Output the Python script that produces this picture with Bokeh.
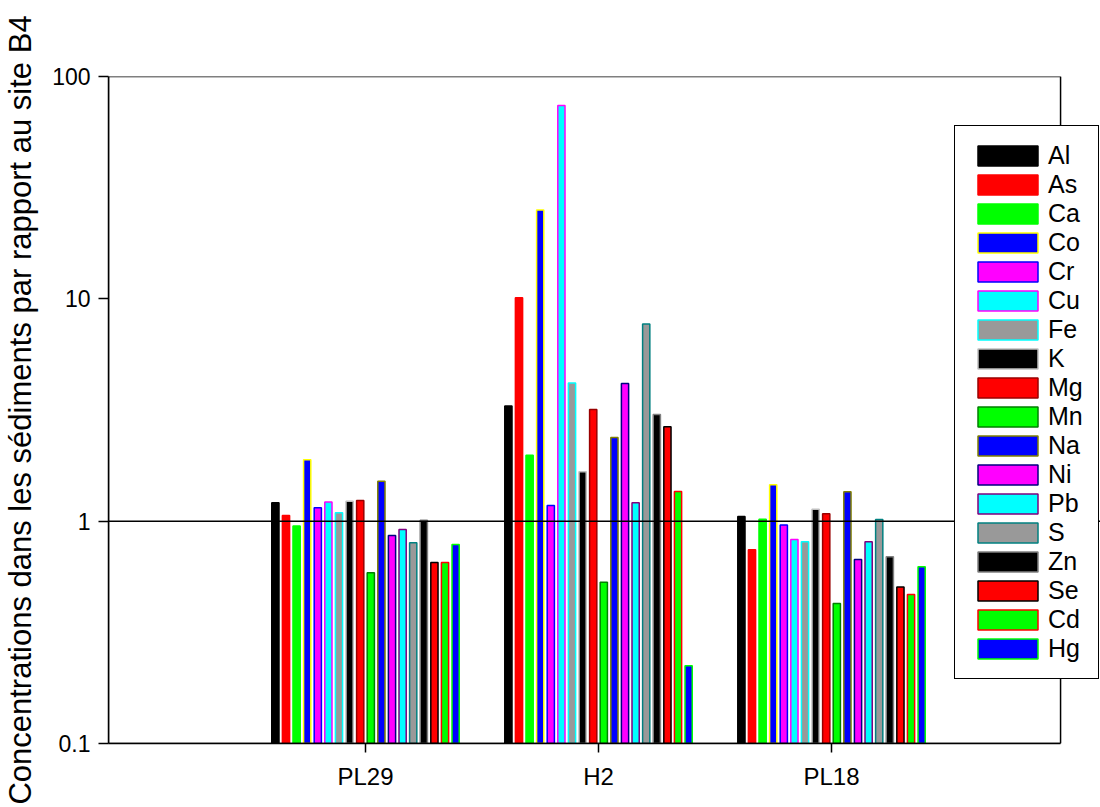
import numpy as np
from bokeh.plotting import figure
from bokeh.models import (Range1d, FixedTicker, CustomJSTickFormatter, Span,
                          Legend, LegendItem, ColumnDataSource, BoxAnnotation)
from bokeh.transform import dodge
from bokeh.embed import file_html
from bokeh.resources import INLINE

# ---- data ----
sites = ["PL29", "H2", "PL18"]
elements = ["Al", "As", "Ca", "Co", "Cr", "Cu", "Fe", "K", "Mg", "Mn",
            "Na", "Ni", "Pb", "S", "Zn", "Se", "Cd", "Hg"]

Al = [1.21, 3.30, 1.05]
As = [1.06, 10.1, 0.743]
Ca = [0.95, 1.98, 1.02]
Co = [1.89, 25.1, 1.46]
Cr = [1.15, 1.175, 0.96]
Cu = [1.22, 74.1, 0.827]
Fe = [1.09, 4.18, 0.807]
K = [1.23, 1.67, 1.13]
Mg = [1.24, 3.18, 1.08]
Mn = [0.586, 0.531, 0.426]
Na = [1.51, 2.38, 1.355]
Ni = [0.862, 4.16, 0.673]
Pb = [0.917, 1.21, 0.807]
S = [0.80, 7.70, 1.017]
Zn = [1.01, 3.02, 0.691]
Se = [0.652, 2.66, 0.506]
Cd = [0.652, 1.36, 0.468]
Hg = [0.786, 0.224, 0.623]
values = [Al, As, Ca, Co, Cr, Cu, Fe, K, Mg, Mn, Na, Ni, Pb, S, Zn, Se, Cd, Hg]

fill_colors = ["#000000", "#ff0000", "#00ff00", "#0000ff", "#ff00ff", "#00ffff",
               "#999999", "#000000", "#ff0000", "#00ff00", "#0000ff", "#ff00ff",
               "#00ffff", "#999999", "#000000", "#ff0000", "#00ff00", "#0000ff"]
line_colors = ["#000000", "#ff0000", "#00ff00", "#ffff00", "#0000ff", "#ff00ff",
               "#00ffff", "#c0c0c0", "#990000", "#008000", "#808000", "#000080",
               "#800080", "#008080", "#808080", "#000000", "#ff0000", "#00ff00"]

FONT = "Liberation Sans"

data = {"pos": list(range(len(sites)))}
for name, vals in zip(elements, values):
    data[name] = vals
source = ColumnDataSource(data)

# plotting box spans x in [X0, X1]; the frame is extended to the right so that
# the legend (which overlaps the box edge) is not clipped
X0, X1 = -1.103, 2.983
XEND = 3.163

p = figure(frame_width=994, frame_height=667,
           min_border_left=106, min_border_right=0,
           min_border_top=76, min_border_bottom=63,
           y_axis_type="log",
           x_range=Range1d(X0, XEND), y_range=Range1d(0.1, 100),
           output_backend="svg", toolbar_location=None,
           background_fill_color="white", border_fill_color="white")

p.xgrid.visible = False
p.ygrid.visible = False
p.outline_line_color = None

step = 0.0455
bar_w = 0.031
n = len(elements)
items = []
for i, name in enumerate(elements):
    r = p.vbar(x=dodge("pos", (i - (n - 1) / 2) * step, range=p.x_range),
               top=name, bottom=0.1, width=bar_w, source=source,
               fill_color=fill_colors[i], line_color=line_colors[i],
               line_width=1.5)
    items.append(LegendItem(label=name, renderers=[r]))

# frame box of the plotting area
box = BoxAnnotation(left=X0, right=X1, bottom=0.1, top=100,
                    fill_alpha=0, line_color="black", line_alpha=1.0,
                    line_width=1.5)
p.add_layout(box)

ref = Span(location=1, dimension="width", line_color="black",
           line_alpha=1.0, line_width=1.5)
p.add_layout(ref)

# y axis
p.yaxis.ticker = FixedTicker(ticks=[0.1, 1, 10, 100], minor_ticks=[])
p.yaxis.formatter = CustomJSTickFormatter(
    code="return tick >= 1 ? tick.toFixed(0) : String(Math.round(tick*10)/10);")
p.yaxis.axis_label = "Concentrations dans les sédiments par rapport au site B4"
p.yaxis.axis_label_text_font = FONT
p.yaxis.axis_label_text_font_size = "31px"
p.yaxis.axis_label_text_font_style = "normal"
p.yaxis.axis_label_text_color = "black"
p.yaxis.axis_label_standoff = 11
p.yaxis.major_label_text_font = FONT
p.yaxis.major_label_text_font_size = "23px"
p.yaxis.major_label_text_color = "black"
p.yaxis.major_label_standoff = 8
p.yaxis.major_tick_out = 10
p.yaxis.major_tick_in = 0
p.yaxis.minor_tick_out = 0
p.yaxis.minor_tick_in = 0
p.yaxis.axis_line_width = 1.5
p.yaxis.axis_line_color = "black"
p.yaxis.major_tick_line_width = 1.5
p.yaxis.major_tick_line_color = "black"

# x axis
p.xaxis.bounds = (X0, X1)
p.xaxis.ticker = FixedTicker(ticks=list(range(len(sites))), minor_ticks=[])
p.xaxis.major_label_overrides = {i: s for i, s in enumerate(sites)}
p.xaxis.major_label_text_font = FONT
p.xaxis.major_label_text_font_size = "24px"
p.xaxis.major_label_text_color = "black"
p.xaxis.major_label_standoff = 10
p.xaxis.major_tick_out = 9
p.xaxis.major_tick_in = 0
p.xaxis.minor_tick_out = 0
p.xaxis.minor_tick_in = 0
p.xaxis.axis_line_width = 1.5
p.xaxis.axis_line_color = "black"
p.xaxis.major_tick_line_width = 1.5
p.xaxis.major_tick_line_color = "black"

legend = Legend(items=items, location=(846, 64),
                border_line_color="black", border_line_alpha=1.0,
                border_line_width=1.5,
                background_fill_color="white", background_fill_alpha=1.0,
                glyph_width=75, glyph_height=25, label_standoff=3,
                label_height=28, spacing=0, padding=15, margin=0,
                label_text_font=FONT, label_text_font_size="25px",
                label_text_color="black")
p.add_layout(legend)

open("out.html", "w").write(file_html(p, INLINE))
